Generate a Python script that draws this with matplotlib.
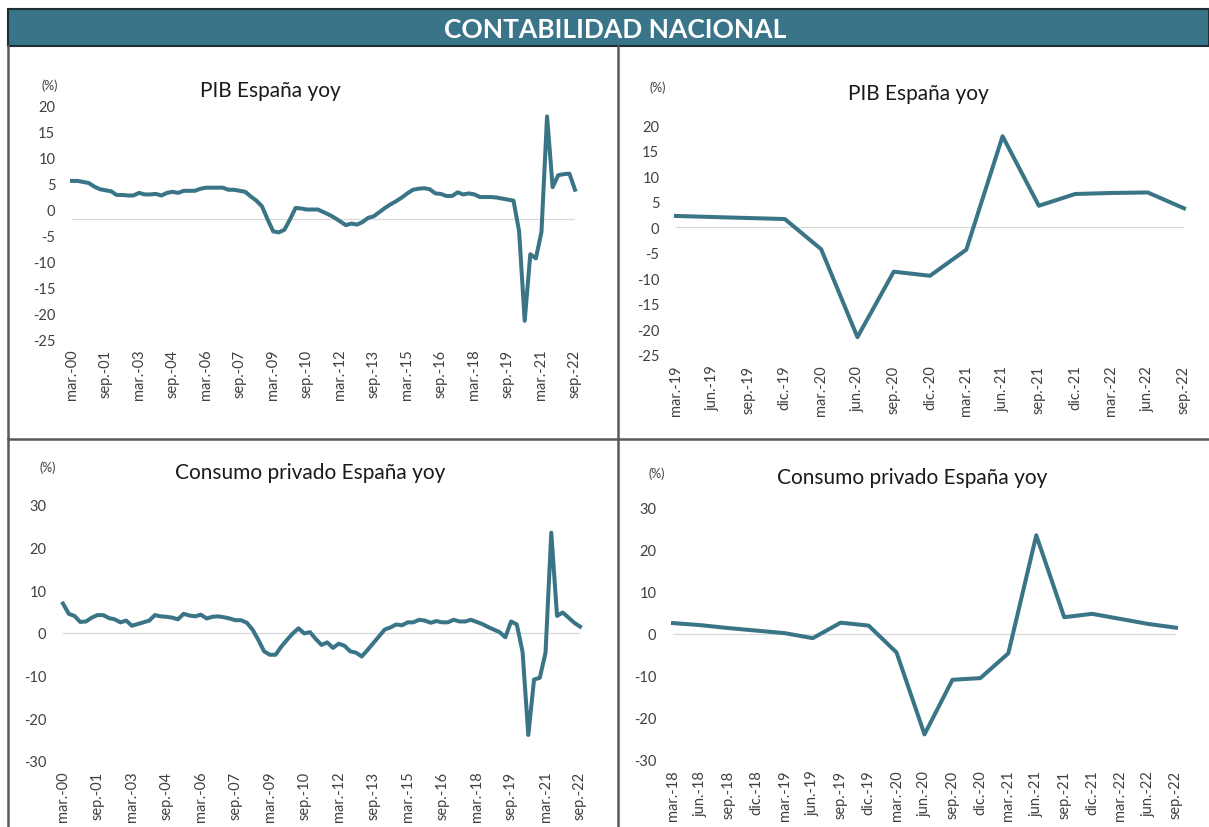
import matplotlib
matplotlib.use("Agg")
import matplotlib.pyplot as plt
from matplotlib.patches import Rectangle
from matplotlib.lines import Line2D

plt.rcParams["font.family"] = ["Lato", "DejaVu Sans"]

# quarterly yoy (%) from mar-00 to sep-22
pib = [5.4, 5.4, 5.2, 5.0,
       4.3, 3.8, 3.6, 3.4,
       2.7, 2.7, 2.6, 2.6,
       3.1, 2.8, 2.8, 2.9,
       2.6, 3.1, 3.3, 3.1,
       3.5, 3.5, 3.5, 3.9,
       4.1, 4.1, 4.1, 4.1,
       3.7, 3.7, 3.5, 3.3,
       2.4, 1.6, 0.5, -2.0,
       -4.3, -4.5, -4.0, -2.0,
       0.2, 0.1, -0.1, -0.1,
       -0.1, -0.6, -1.1, -1.7,
       -2.4, -3.1, -2.8, -3.0,
       -2.5, -1.7, -1.4, -0.6,
       0.2, 0.9, 1.5, 2.2,
       3.0, 3.7, 3.9, 4.0,
       3.8, 3.0, 2.9, 2.5,
       2.5, 3.2, 2.8, 3.0,
       2.8, 2.3, 2.3, 2.3,
       2.2, 2.0, 1.8, 1.6,
       -4.3, -21.5, -8.7, -9.5,
       -4.4, 17.8, 4.2, 6.5,
       6.7, 6.8, 3.7]

consumo = [6.9, 4.5, 4.0, 2.6,
           2.7, 3.6, 4.2, 4.2,
           3.5, 3.2, 2.5, 2.9,
           1.7, 2.1, 2.5, 2.9,
           4.2, 3.9, 3.8, 3.6,
           3.2, 4.5, 4.1, 3.9,
           4.3, 3.4, 3.8, 3.9,
           3.7, 3.4, 3.0, 3.0,
           2.4, 0.8, -1.6, -4.3,
           -5.1, -5.1, -3.2, -1.6,
           -0.1, 1.1, -0.1, 0.2,
           -1.4, -2.8, -2.2, -3.5,
           -2.5, -3.0, -4.3, -4.6,
           -5.5, -4.0, -2.4, -0.8,
           0.8, 1.3, 2.0, 1.8,
           2.5, 2.5, 3.1, 2.9,
           2.4, 2.8, 2.5, 2.5,
           3.1, 2.7, 2.7, 3.1,
           2.6, 2.1, 1.4, 0.8,
           0.2, -1.0, 2.7, 2.0,
           -4.4, -23.9, -10.9, -10.5,
           -4.6, 23.5, 4.0, 4.8,
           3.6, 2.4, 1.5]

meses = ["mar.", "jun.", "sep.", "dic."]
trimestres = [f"{meses[q % 4]}-{q // 4:02d}" for q in range(len(pib))]

W, H = 1209, 828
line_color = "#3A7487"

fig = plt.figure(figsize=(W / 100, H / 100), dpi=100)


def px(x0, y0, x1, y1):
    return [x0 / W, 1 - y1 / H, (x1 - x0) / W, (y1 - y0) / H]


def panel(box, y, labels, step, yticks, zero, title, tpos, ppos):
    ax = fig.add_axes(px(*box))
    ax.axhline(zero, color="#D9D9D9", lw=0.9, zorder=1)
    ax.plot(range(len(y)), y, color=line_color, lw=2.9, zorder=3,
            solid_joinstyle="round", clip_on=False)
    ax.set_xlim(0, len(y) - 1)
    ax.set_ylim(yticks[0], yticks[-1])
    ax.set_yticks(yticks)
    ax.set_yticklabels([str(v) for v in yticks], fontsize=10.5, color="#404040")
    ax.set_xticks(range(0, len(y), step))
    ax.set_xticklabels(labels[::step], rotation=90, fontsize=10.5, color="#404040")
    ax.tick_params(length=0, axis="y", pad=12)
    ax.tick_params(length=0, axis="x", pad=7)
    for s in ax.spines.values():
        s.set_visible(False)
    ax.patch.set_alpha(0)
    fig.text(tpos[0] / W, 1 - tpos[1] / H, title, fontsize=15, ha="center",
             va="center", color="#1a1a1a")
    fig.text(ppos[0] / W, 1 - ppos[1] / H, "(%)", fontsize=9, ha="center",
             va="center", color="#404040")
    return ax


# header
fig.patches.append(Rectangle((8 / W, 1 - 47 / H), (W - 8) / W, 37 / H,
                             transform=fig.transFigure, facecolor="#3A7489",
                             edgecolor="#1E2E36", lw=1.5))
fig.text(615 / W, 1 - 30 / H, "CONTABILIDAD NACIONAL", color="white",
         fontsize=19, fontweight="bold", ha="center", va="center")

# panel borders
for xs, ys in [([8, 8], [47, H]), ([618, 618], [47, H]), ([8, W], [440, 440])]:
    fig.lines.append(Line2D([v / W for v in xs], [1 - v / H for v in ys],
                            transform=fig.transFigure, color="#595959", lw=1.8))

yt_pib = [-25, -20, -15, -10, -5, 0, 5, 10, 15, 20]
yt_con = [-30, -20, -10, 0, 10, 20, 30]

panel((72, 106, 575, 340), pib, trimestres, 6, yt_pib, -2,
      "PIB España yoy", (270, 91), (50, 86))
panel((676, 126, 1184, 356), pib[76:], trimestres[76:], 1, yt_pib, 0,
      "PIB España yoy", (918, 94), (658, 88))
panel((63, 506, 580, 762), consumo, trimestres, 6, yt_con, 0,
      "Consumo privado España yoy", (310, 473), (48, 468))
panel((673, 509, 1176, 761), consumo[72:], trimestres[72:], 1, yt_con, 0,
      "Consumo privado España yoy", (912, 478), (657, 474))

fig.savefig("out.png", dpi=100)
